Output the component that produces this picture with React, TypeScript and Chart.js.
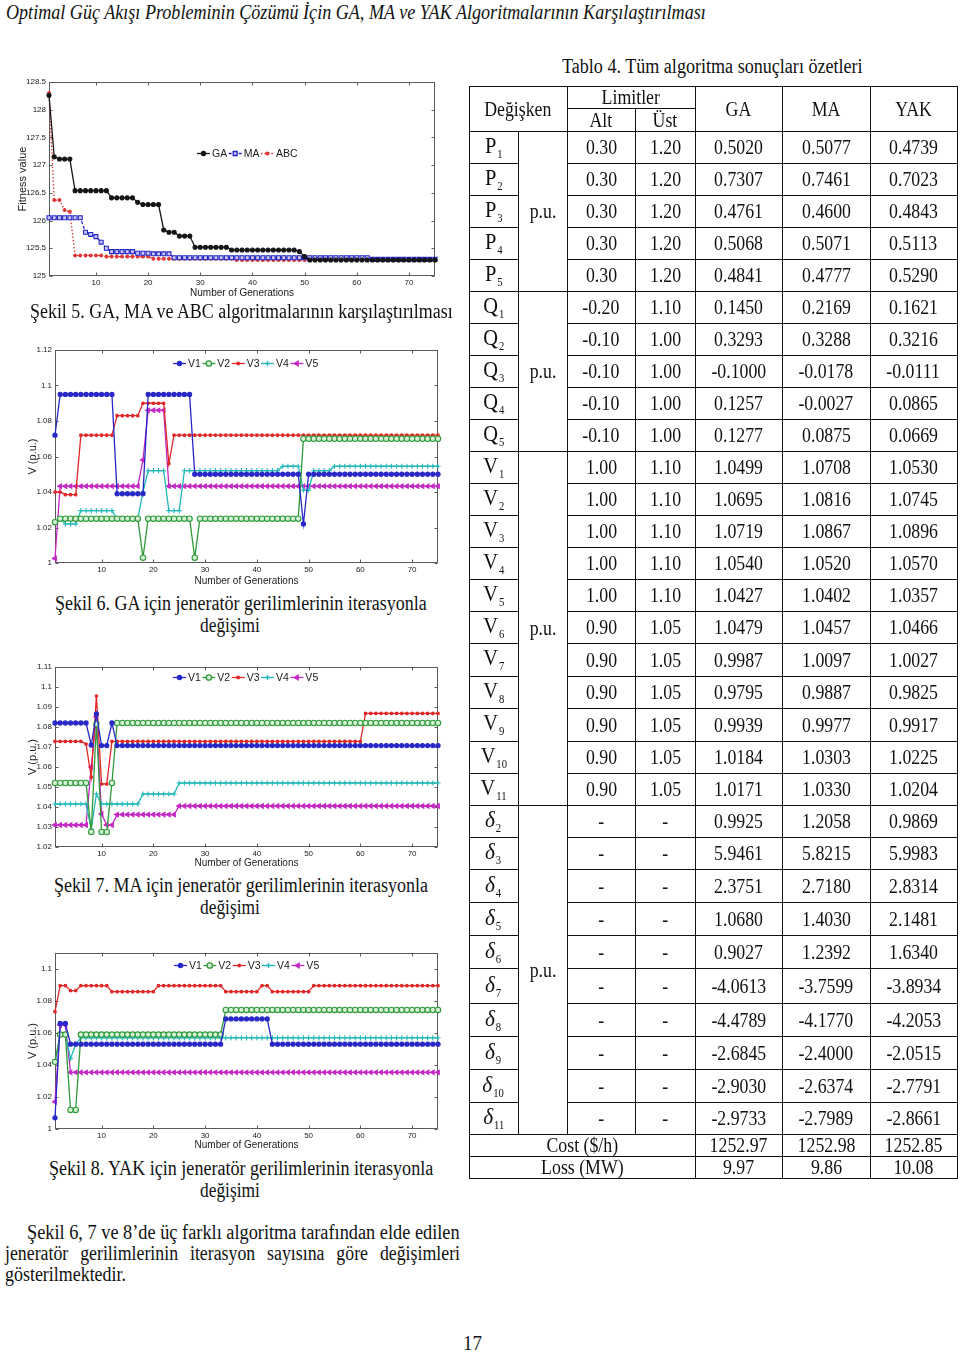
import React, { useEffect, useLayoutEffect, useRef, useState } from 'react';
import { Chart, registerables } from 'chart.js';
import { drawPoint } from 'chart.js/helpers';

Chart.register(...registerables);

const SERIF = '"Liberation Serif", "Times New Roman", serif';
const SANS = '"Liberation Sans", Arial, Helvetica, sans-serif';

// ---------------- DATA ----------------
const GENS = [
  1, 2, 3, 4, 5, 6, 7, 8, 9, 10, 11, 12, 13, 14, 15,
  16, 17, 18, 19, 20, 21, 22, 23, 24, 25, 26, 27, 28, 29, 30,
  31, 32, 33, 34, 35, 36, 37, 38, 39, 40, 41, 42, 43, 44, 45,
  46, 47, 48, 49, 50, 51, 52, 53, 54, 55, 56, 57, 58, 59, 60,
  61, 62, 63, 64, 65, 66, 67, 68, 69, 70, 71, 72, 73, 74, 75,
];

// Şekil 5 - fitness value
const FIT_GA = [
  128.26, 127.15, 127.11, 127.11, 127.11, 126.54, 126.54, 126.54, 126.54, 126.54, 126.54, 126.54, 126.41, 126.41, 126.41,
  126.41, 126.41, 126.33, 126.29, 126.29, 126.29, 126.29, 125.83, 125.79, 125.79, 125.72, 125.72, 125.72, 125.52, 125.52,
  125.52, 125.52, 125.52, 125.52, 125.52, 125.47, 125.47, 125.47, 125.47, 125.47, 125.47, 125.47, 125.47, 125.47, 125.47,
  125.47, 125.47, 125.47, 125.44, 125.35, 125.29, 125.29, 125.29, 125.29, 125.29, 125.29, 125.29, 125.29, 125.29, 125.29,
  125.29, 125.29, 125.29, 125.29, 125.29, 125.29, 125.29, 125.29, 125.29, 125.29, 125.29, 125.29, 125.29, 125.29, 125.29,
];
const FIT_MA = [
  126.05, 126.05, 126.05, 126.05, 126.05, 126.05, 126.05, 125.79, 125.75, 125.71, 125.61, 125.50, 125.44, 125.44, 125.44,
  125.44, 125.44, 125.41, 125.41, 125.41, 125.40, 125.40, 125.40, 125.40, 125.33, 125.33, 125.33, 125.33, 125.33, 125.33,
  125.33, 125.33, 125.33, 125.33, 125.33, 125.33, 125.33, 125.33, 125.33, 125.33, 125.33, 125.33, 125.33, 125.33, 125.33,
  125.33, 125.33, 125.33, 125.33, 125.33, 125.33, 125.33, 125.33, 125.33, 125.33, 125.33, 125.33, 125.33, 125.33, 125.33,
  125.33, 125.33, 125.30, 125.30, 125.30, 125.30, 125.30, 125.30, 125.30, 125.30, 125.30, 125.30, 125.30, 125.30, 125.30,
];
const FIT_ABC = [
  128.30, 126.37, 126.37, 126.19, 126.16, 125.37, 125.37, 125.37, 125.37, 125.37, 125.37, 125.35, 125.35, 125.35, 125.35,
  125.35, 125.35, 125.35, 125.35, 125.35, 125.31, 125.31, 125.31, 125.31, 125.31, 125.31, 125.31, 125.31, 125.31, 125.31,
  125.31, 125.31, 125.31, 125.31, 125.31, 125.31, 125.29, 125.29, 125.29, 125.29, 125.29, 125.29, 125.29, 125.29, 125.29,
  125.29, 125.29, 125.29, 125.29, 125.29, 125.29, 125.29, 125.29, 125.29, 125.29, 125.29, 125.29, 125.29, 125.29, 125.29,
  125.29, 125.29, 125.29, 125.29, 125.29, 125.29, 125.29, 125.29, 125.29, 125.29, 125.29, 125.29, 125.29, 125.29, 125.29,
];

// Şekil 6 - GA generator voltages
const GA_V1 = [
  1.072, 1.095, 1.095, 1.095, 1.095, 1.095, 1.095, 1.095, 1.095, 1.095, 1.095, 1.095, 1.039, 1.039, 1.039,
  1.039, 1.039, 1.039, 1.095, 1.095, 1.095, 1.095, 1.095, 1.095, 1.095, 1.095, 1.095, 1.050, 1.050, 1.050,
  1.050, 1.050, 1.050, 1.050, 1.050, 1.050, 1.050, 1.050, 1.050, 1.050, 1.050, 1.050, 1.050, 1.050, 1.050,
  1.050, 1.050, 1.050, 1.022, 1.050, 1.050, 1.050, 1.050, 1.050, 1.050, 1.050, 1.050, 1.050, 1.050, 1.050,
  1.050, 1.050, 1.050, 1.050, 1.050, 1.050, 1.050, 1.050, 1.050, 1.050, 1.050, 1.050, 1.050, 1.050, 1.050,
];
const GA_V2 = [
  1.023, 1.025, 1.025, 1.025, 1.025, 1.025, 1.025, 1.025, 1.025, 1.025, 1.025, 1.025, 1.025, 1.025, 1.025,
  1.025, 1.025, 1.003, 1.025, 1.025, 1.025, 1.025, 1.025, 1.025, 1.025, 1.025, 1.025, 1.003, 1.025, 1.025,
  1.025, 1.025, 1.025, 1.025, 1.025, 1.025, 1.025, 1.025, 1.025, 1.025, 1.025, 1.025, 1.025, 1.025, 1.025,
  1.025, 1.025, 1.025, 1.070, 1.070, 1.070, 1.070, 1.070, 1.070, 1.070, 1.070, 1.070, 1.070, 1.070, 1.070,
  1.070, 1.070, 1.070, 1.070, 1.070, 1.070, 1.070, 1.070, 1.070, 1.070, 1.070, 1.070, 1.070, 1.070, 1.070,
];
const GA_V3 = [
  1.040, 1.040, 1.0385, 1.0385, 1.0385, 1.072, 1.072, 1.072, 1.072, 1.072, 1.072, 1.072, 1.083, 1.083, 1.083,
  1.083, 1.083, 1.090, 1.090, 1.090, 1.090, 1.090, 1.056, 1.072, 1.072, 1.072, 1.072, 1.072, 1.072, 1.072,
  1.072, 1.072, 1.072, 1.072, 1.072, 1.072, 1.072, 1.072, 1.072, 1.072, 1.072, 1.072, 1.072, 1.072, 1.072,
  1.072, 1.072, 1.072, 1.072, 1.072, 1.072, 1.072, 1.072, 1.072, 1.072, 1.072, 1.072, 1.072, 1.072, 1.072,
  1.072, 1.072, 1.072, 1.072, 1.072, 1.072, 1.072, 1.072, 1.072, 1.072, 1.072, 1.072, 1.072, 1.072, 1.072,
];
const GA_V4 = [
  1.023, 1.025, 1.022, 1.022, 1.022, 1.0295, 1.0295, 1.0295, 1.0295, 1.0295, 1.0295, 1.0295, 1.025, 1.025, 1.025,
  1.025, 1.025, 1.040, 1.052, 1.052, 1.052, 1.052, 1.0295, 1.0295, 1.0295, 1.052, 1.052, 1.052, 1.052, 1.052,
  1.052, 1.052, 1.052, 1.052, 1.052, 1.052, 1.052, 1.052, 1.052, 1.052, 1.052, 1.052, 1.052, 1.052, 1.0545,
  1.0545, 1.0545, 1.0545, 1.041, 1.041, 1.052, 1.052, 1.052, 1.052, 1.0545, 1.0545, 1.0545, 1.0545, 1.0545, 1.0545,
  1.0545, 1.0545, 1.0545, 1.0545, 1.0545, 1.0545, 1.0545, 1.0545, 1.0545, 1.0545, 1.0545, 1.0545, 1.0545, 1.0545, 1.0545,
];
const GA_V5 = [
  1.0025, 1.0433, 1.0433, 1.0433, 1.0433, 1.0433, 1.0433, 1.0433, 1.0433, 1.0433, 1.0433, 1.0433, 1.0433, 1.0433, 1.0433,
  1.0433, 1.0433, 1.058, 1.086, 1.086, 1.086, 1.086, 1.0433, 1.0433, 1.0433, 1.0433, 1.0433, 1.0433, 1.0433, 1.0433,
  1.0433, 1.0433, 1.0433, 1.0433, 1.0433, 1.0433, 1.0433, 1.0433, 1.0433, 1.0433, 1.0433, 1.0433, 1.0433, 1.0433, 1.0433,
  1.0433, 1.0433, 1.0433, 1.0433, 1.0433, 1.0433, 1.0433, 1.0433, 1.0433, 1.0433, 1.0433, 1.0433, 1.0433, 1.0433, 1.0433,
  1.0433, 1.0433, 1.0433, 1.0433, 1.0433, 1.0433, 1.0433, 1.0433, 1.0433, 1.0433, 1.0433, 1.0433, 1.0433, 1.0433, 1.0433,
];

// Şekil 7 - MA generator voltages
const MA_V1 = [
  1.082, 1.082, 1.082, 1.082, 1.082, 1.082, 1.082, 1.071, 1.0865, 1.0707, 1.0707, 1.082, 1.0707, 1.0707, 1.0707,
  1.0707, 1.0707, 1.0707, 1.0707, 1.0707, 1.0707, 1.0707, 1.0707, 1.0707, 1.0707, 1.0707, 1.0707, 1.0707, 1.0707, 1.0707,
  1.0707, 1.0707, 1.0707, 1.0707, 1.0707, 1.0707, 1.0707, 1.0707, 1.0707, 1.0707, 1.0707, 1.0707, 1.0707, 1.0707, 1.0707,
  1.0707, 1.0707, 1.0707, 1.0707, 1.0707, 1.0707, 1.0707, 1.0707, 1.0707, 1.0707, 1.0707, 1.0707, 1.0707, 1.0707, 1.0707,
  1.0707, 1.0707, 1.0707, 1.0707, 1.0707, 1.0707, 1.0707, 1.0707, 1.0707, 1.0707, 1.0707, 1.0707, 1.0707, 1.0707, 1.0707,
];
const MA_V2 = [
  1.052, 1.052, 1.052, 1.052, 1.052, 1.052, 1.052, 1.0275, 1.0815, 1.0275, 1.0275, 1.052, 1.082, 1.082, 1.082,
  1.082, 1.082, 1.082, 1.082, 1.082, 1.082, 1.082, 1.082, 1.082, 1.082, 1.082, 1.082, 1.082, 1.082, 1.082,
  1.082, 1.082, 1.082, 1.082, 1.082, 1.082, 1.082, 1.082, 1.082, 1.082, 1.082, 1.082, 1.082, 1.082, 1.082,
  1.082, 1.082, 1.082, 1.082, 1.082, 1.082, 1.082, 1.082, 1.082, 1.082, 1.082, 1.082, 1.082, 1.082, 1.082,
  1.082, 1.082, 1.082, 1.082, 1.082, 1.082, 1.082, 1.082, 1.082, 1.082, 1.082, 1.082, 1.082, 1.082, 1.082,
];
const MA_V3 = [
  1.0728, 1.0728, 1.0728, 1.0728, 1.0728, 1.0728, 1.0715, 1.055, 1.0955, 1.0515, 1.0515, 1.0728, 1.0728, 1.0728, 1.0728,
  1.0728, 1.0728, 1.0728, 1.0728, 1.0728, 1.0728, 1.0728, 1.0728, 1.0728, 1.0728, 1.0728, 1.0728, 1.0728, 1.0728, 1.0728,
  1.0728, 1.0728, 1.0728, 1.0728, 1.0728, 1.0728, 1.0728, 1.0728, 1.0728, 1.0728, 1.0728, 1.0728, 1.0728, 1.0728, 1.0728,
  1.0728, 1.0728, 1.0728, 1.0728, 1.0728, 1.0728, 1.0728, 1.0728, 1.0728, 1.0728, 1.0728, 1.0728, 1.0728, 1.0728, 1.0728,
  1.0868, 1.0868, 1.0868, 1.0868, 1.0868, 1.0868, 1.0868, 1.0868, 1.0868, 1.0868, 1.0868, 1.0868, 1.0868, 1.0868, 1.0868,
];
const MA_V4 = [
  1.0415, 1.0415, 1.0415, 1.0415, 1.0415, 1.0415, 1.0415, 1.029, 1.0465, 1.0415, 1.0415, 1.0415, 1.0415, 1.0415, 1.0415,
  1.0415, 1.0415, 1.0465, 1.0465, 1.0465, 1.0465, 1.0465, 1.0465, 1.0465, 1.052, 1.052, 1.052, 1.052, 1.052, 1.052,
  1.052, 1.052, 1.052, 1.052, 1.052, 1.052, 1.052, 1.052, 1.052, 1.052, 1.052, 1.052, 1.052, 1.052, 1.052,
  1.052, 1.052, 1.052, 1.052, 1.052, 1.052, 1.052, 1.052, 1.052, 1.052, 1.052, 1.052, 1.052, 1.052, 1.052,
  1.052, 1.052, 1.052, 1.052, 1.052, 1.052, 1.052, 1.052, 1.052, 1.052, 1.052, 1.052, 1.052, 1.052, 1.052,
];
const MA_V5 = [
  1.031, 1.031, 1.031, 1.031, 1.031, 1.031, 1.031, 1.060, 1.085, 1.0365, 1.031, 1.031, 1.0362, 1.0362, 1.0362,
  1.0362, 1.0362, 1.0362, 1.0362, 1.0362, 1.0362, 1.0362, 1.0362, 1.0362, 1.0405, 1.0405, 1.0405, 1.0405, 1.0405, 1.0405,
  1.0405, 1.0405, 1.0405, 1.0405, 1.0405, 1.0405, 1.0405, 1.0405, 1.0405, 1.0405, 1.0405, 1.0405, 1.0405, 1.0405, 1.0405,
  1.0405, 1.0405, 1.0405, 1.0405, 1.0405, 1.0405, 1.0405, 1.0405, 1.0405, 1.0405, 1.0405, 1.0405, 1.0405, 1.0405, 1.0405,
  1.0405, 1.0405, 1.0405, 1.0405, 1.0405, 1.0405, 1.0405, 1.0405, 1.0405, 1.0405, 1.0405, 1.0405, 1.0405, 1.0405, 1.0405,
];

// Şekil 8 - YAK generator voltages
const YAK_V1 = [
  1.007, 1.066, 1.066, 1.053, 1.053, 1.053, 1.053, 1.053, 1.053, 1.053, 1.053, 1.053, 1.053, 1.053, 1.053,
  1.053, 1.053, 1.053, 1.053, 1.053, 1.053, 1.053, 1.053, 1.053, 1.053, 1.053, 1.053, 1.053, 1.053, 1.053,
  1.053, 1.053, 1.053, 1.0688, 1.0688, 1.0688, 1.0688, 1.0688, 1.0688, 1.0688, 1.0688, 1.0688, 1.053, 1.053, 1.053,
  1.053, 1.053, 1.053, 1.053, 1.053, 1.053, 1.053, 1.053, 1.053, 1.053, 1.053, 1.053, 1.053, 1.053, 1.053,
  1.053, 1.053, 1.053, 1.053, 1.053, 1.053, 1.053, 1.053, 1.053, 1.053, 1.053, 1.053, 1.053, 1.053, 1.053,
];
const YAK_V2 = [
  1.042, 1.059, 1.059, 1.0119, 1.0119, 1.059, 1.059, 1.059, 1.059, 1.059, 1.059, 1.059, 1.059, 1.059, 1.059,
  1.059, 1.059, 1.059, 1.059, 1.059, 1.059, 1.059, 1.059, 1.059, 1.059, 1.059, 1.059, 1.059, 1.059, 1.059,
  1.059, 1.059, 1.059, 1.0744, 1.0744, 1.0744, 1.0744, 1.0744, 1.0744, 1.0744, 1.0744, 1.0744, 1.0744, 1.0744, 1.0744,
  1.0744, 1.0744, 1.0744, 1.0744, 1.0744, 1.0744, 1.0744, 1.0744, 1.0744, 1.0744, 1.0744, 1.0744, 1.0744, 1.0744, 1.0744,
  1.0744, 1.0744, 1.0744, 1.0744, 1.0744, 1.0744, 1.0744, 1.0744, 1.0744, 1.0744, 1.0744, 1.0744, 1.0744, 1.0744, 1.0744,
];
const YAK_V3 = [
  1.0733, 1.0896, 1.0896, 1.0865, 1.0865, 1.0896, 1.0896, 1.0896, 1.0896, 1.0896, 1.0896, 1.0858, 1.0858, 1.0858, 1.0858,
  1.0858, 1.0858, 1.0858, 1.0858, 1.0858, 1.0896, 1.0896, 1.0896, 1.0896, 1.0896, 1.0896, 1.0896, 1.0896, 1.0896, 1.0896,
  1.0896, 1.0896, 1.0896, 1.0858, 1.0858, 1.0858, 1.0858, 1.0858, 1.0858, 1.0858, 1.0896, 1.0896, 1.0858, 1.0858, 1.0858,
  1.0858, 1.0858, 1.0858, 1.0858, 1.0858, 1.0896, 1.0896, 1.0896, 1.0896, 1.0896, 1.0896, 1.0896, 1.0896, 1.0896, 1.0896,
  1.0896, 1.0896, 1.0896, 1.0896, 1.0896, 1.0896, 1.0896, 1.0896, 1.0896, 1.0896, 1.0896, 1.0896, 1.0896, 1.0896, 1.0896,
];
const YAK_V4 = [
  1.042, 1.059, 1.059, 1.044, 1.053, 1.057, 1.057, 1.057, 1.057, 1.057, 1.057, 1.057, 1.057, 1.057, 1.057,
  1.057, 1.057, 1.057, 1.057, 1.057, 1.057, 1.057, 1.057, 1.057, 1.057, 1.057, 1.057, 1.057, 1.057, 1.057,
  1.057, 1.057, 1.057, 1.057, 1.057, 1.057, 1.057, 1.057, 1.057, 1.057, 1.057, 1.057, 1.057, 1.057, 1.057,
  1.057, 1.057, 1.057, 1.057, 1.057, 1.057, 1.057, 1.057, 1.057, 1.057, 1.057, 1.057, 1.057, 1.057, 1.057,
  1.057, 1.057, 1.057, 1.057, 1.057, 1.057, 1.057, 1.057, 1.057, 1.057, 1.057, 1.057, 1.057, 1.057, 1.057,
];
const YAK_V5 = [
  1.017, 1.065, 1.065, 1.0354, 1.0354, 1.0354, 1.0354, 1.0354, 1.0354, 1.0354, 1.0354, 1.0354, 1.0354, 1.0354, 1.0354,
  1.0354, 1.0354, 1.0354, 1.0354, 1.0354, 1.0354, 1.0354, 1.0354, 1.0354, 1.0354, 1.0354, 1.0354, 1.0354, 1.0354, 1.0354,
  1.0354, 1.0354, 1.0354, 1.0354, 1.0354, 1.0354, 1.0354, 1.0354, 1.0354, 1.0354, 1.0354, 1.0354, 1.0354, 1.0354, 1.0354,
  1.0354, 1.0354, 1.0354, 1.0354, 1.0354, 1.0354, 1.0354, 1.0354, 1.0354, 1.0354, 1.0354, 1.0354, 1.0354, 1.0354, 1.0354,
  1.0354, 1.0354, 1.0354, 1.0354, 1.0354, 1.0354, 1.0354, 1.0354, 1.0354, 1.0354, 1.0354, 1.0354, 1.0354, 1.0354, 1.0354,
];

// Tablo 4
const VAR_LABELS = [
  'P1', 'P2', 'P3', 'P4', 'P5', 'Q1', 'Q2', 'Q3', 'Q4', 'Q5',
  'V1', 'V2', 'V3', 'V4', 'V5', 'V6', 'V7', 'V8', 'V9', 'V10', 'V11',
  'δ2', 'δ3', 'δ4', 'δ5', 'δ6', 'δ7', 'δ8', 'δ9', 'δ10', 'δ11',
];
const LIM_ALT = [
  '0.30', '0.30', '0.30', '0.30', '0.30', '-0.20', '-0.10', '-0.10', '-0.10', '-0.10',
  '1.00', '1.00', '1.00', '1.00', '1.00', '0.90', '0.90', '0.90', '0.90', '0.90', '0.90',
  '-', '-', '-', '-', '-', '-', '-', '-', '-', '-',
];
const LIM_UST = [
  '1.20', '1.20', '1.20', '1.20', '1.20', '1.10', '1.00', '1.00', '1.00', '1.00',
  '1.10', '1.10', '1.10', '1.10', '1.10', '1.05', '1.05', '1.05', '1.05', '1.05', '1.05',
  '-', '-', '-', '-', '-', '-', '-', '-', '-', '-',
];
const RES_GA = [
  '0.5020', '0.7307', '0.4761', '0.5068', '0.4841', '0.1450', '0.3293', '-0.1000', '0.1257', '0.1277',
  '1.0499', '1.0695', '1.0719', '1.0540', '1.0427', '1.0479', '0.9987', '0.9795', '0.9939', '1.0184', '1.0171',
  '0.9925', '5.9461', '2.3751', '1.0680', '0.9027', '-4.0613', '-4.4789', '-2.6845', '-2.9030', '-2.9733',
];
const RES_MA = [
  '0.5077', '0.7461', '0.4600', '0.5071', '0.4777', '0.2169', '0.3288', '-0.0178', '-0.0027', '0.0875',
  '1.0708', '1.0816', '1.0867', '1.0520', '1.0402', '1.0457', '1.0097', '0.9887', '0.9977', '1.0303', '1.0330',
  '1.2058', '5.8215', '2.7180', '1.4030', '1.2392', '-3.7599', '-4.1770', '-2.4000', '-2.6374', '-2.7989',
];
const RES_YAK = [
  '0.4739', '0.7023', '0.4843', '0.5113', '0.5290', '0.1621', '0.3216', '-0.0111', '0.0865', '0.0669',
  '1.0530', '1.0745', '1.0896', '1.0570', '1.0357', '1.0466', '1.0027', '0.9825', '0.9917', '1.0225', '1.0204',
  '0.9869', '5.9983', '2.8314', '2.1481', '1.6340', '-3.8934', '-4.2053', '-2.0515', '-2.7791', '-2.8661',
];
const COST = ['1252.97', '1252.98', '1252.85'];
const LOSS = ['9.97', '9.86', '10.08'];
const ALGOS = ['GA', 'MA', 'YAK'];

// ---------------- PLUGINS ----------------
const frameTicks = {
  id: 'frameTicks',
  beforeDatasetsDraw(chart: any, _a: any, o: any) {
    const { ctx, chartArea: a, scales } = chart;
    const xs = scales.x, ys = scales.y;
    const L = Math.round(a.left) + 0.5, R = Math.round(a.right) - 0.5;
    const T = Math.round(a.top) + 0.5, B = Math.round(a.bottom) - 0.5;
    ctx.save();
    ctx.strokeStyle = o.color;
    ctx.lineWidth = 1;
    ctx.strokeRect(L, T, R - L, B - T);
    ctx.beginPath();
    xs.ticks.forEach((t: any) => {
      const p = Math.round(xs.getPixelForValue(t.value)) + 0.5;
      ctx.moveTo(p, B); ctx.lineTo(p, B - o.len);
      ctx.moveTo(p, T); ctx.lineTo(p, T + o.len);
    });
    ys.ticks.forEach((t: any) => {
      const p = Math.round(ys.getPixelForValue(t.value)) + 0.5;
      ctx.moveTo(L, p); ctx.lineTo(L + o.len, p);
      ctx.moveTo(R, p); ctx.lineTo(R - o.len, p);
    });
    ctx.stroke();
    ctx.restore();
  },
};

const inlineLegend = {
  id: 'inlineLegend',
  afterDatasetsDraw(chart: any, _a: any, o: any) {
    const ctx = chart.ctx;
    ctx.save();
    ctx.font = `${o.size}px ${SANS}`;
    ctx.textBaseline = 'middle';
    let cx = o.x;
    chart.data.datasets.forEach((ds: any) => {
      ctx.strokeStyle = ds.borderColor;
      ctx.lineWidth = ds.borderWidth;
      ctx.setLineDash(ds.borderDash || []);
      ctx.beginPath();
      ctx.moveTo(cx, o.y + 0.5);
      ctx.lineTo(cx + o.line, o.y + 0.5);
      ctx.stroke();
      ctx.setLineDash([]);
      ctx.fillStyle = ds.pointBackgroundColor;
      ctx.strokeStyle = ds.pointBorderColor;
      drawPoint(ctx, { pointStyle: ds.pointStyle, rotation: ds.pointRotation || 0, radius: ds.pointRadius, borderWidth: ds.pointBorderWidth } as any, cx + o.line / 2, o.y + 0.5);
      ctx.fillStyle = o.color;
      ctx.fillText(ds.label, cx + o.line + o.gap, o.y + 1);
      cx += o.line + o.gap + ctx.measureText(ds.label).width + o.itemGap;
    });
    ctx.restore();
  },
};

// ---------------- CHART SPECS ----------------
type SeriesDef = { label: string; data: number[]; color: string; point: string; radius: number; fill: string; dash?: number[]; rot?: number };

const FIT_SERIES: SeriesDef[] = [
  { label: 'GA', data: FIT_GA, color: '#151515', point: 'circle', radius: 2, fill: '#151515' },
  { label: 'MA', data: FIT_MA, color: '#2424c8', point: 'rect', radius: 2.8, fill: '#c9c9f2', dash: [3, 2] },
  { label: 'ABC', data: FIT_ABC, color: '#e03434', point: 'star', radius: 2, fill: '#e03434', dash: [1.5, 2] },
];

const V_COLORS = ['#2828c8', '#2f9a3a', '#e02828', '#22b8b8', '#c428c4'];
function voltageSeries(v1: number[], v2: number[], v3: number[], v4: number[], v5: number[]): SeriesDef[] {
  return [
    { label: 'V1', data: v1, color: V_COLORS[0], point: 'circle', radius: 2.1, fill: V_COLORS[0] },
    { label: 'V2', data: v2, color: V_COLORS[1], point: 'circle', radius: 2.7, fill: '#d6efd6' },
    { label: 'V3', data: v3, color: V_COLORS[2], point: 'circle', radius: 1.3, fill: V_COLORS[2] },
    { label: 'V4', data: v4, color: V_COLORS[3], point: 'cross', radius: 2.6, fill: V_COLORS[3] },
    { label: 'V5', data: v5, color: V_COLORS[4], point: 'triangle', radius: 2.6, fill: V_COLORS[4], rot: -90 },
  ];
}

type Geo = {
  left: number; top: number; width: number; height: number;
  yWidth: number; xHeight: number; padTop: number; padRight: number;
  yTitlePad: number; xTitlePad: number; legendX: number; legendY: number;
};
type YAxis = { min: number; max: number; step: number; bounds: boolean; title: string };

function LineChart({ geo, yAxis, series }: { geo: Geo; yAxis: YAxis; series: SeriesDef[] }) {
  const ref = useRef<HTMLCanvasElement>(null);
  useEffect(() => {
    const tickFont = { family: SANS, size: 8 };
    const chart = new Chart(ref.current as HTMLCanvasElement, {
      type: 'line',
      data: {
        datasets: series.map((s) => ({
          label: s.label,
          data: s.data.map((v, i) => ({ x: GENS[i], y: v })),
          borderColor: s.color,
          backgroundColor: s.fill,
          borderWidth: 1.3,
          borderDash: s.dash || [],
          pointStyle: s.point as any,
          pointRadius: s.radius,
          pointRotation: s.rot || 0,
          pointBorderColor: s.color,
          pointBackgroundColor: s.fill,
          pointBorderWidth: 1.1,
          tension: 0,
          clip: false as any,
        })),
      },
      options: {
        animation: false,
        responsive: false,
        maintainAspectRatio: false,
        events: [],
        layout: { padding: { top: geo.padTop, right: geo.padRight, left: 0, bottom: 0 } },
        plugins: {
          legend: { display: false },
          tooltip: { enabled: false },
          frameTicks: { color: '#5a5a5a', len: 3 },
          inlineLegend: { x: geo.legendX, y: geo.legendY, line: 13, gap: 2, itemGap: 1.5, size: 10.5, color: '#1a1a1a' },
        } as any,
        scales: {
          x: {
            type: 'linear',
            min: 1,
            max: 75,
            grid: { display: false, drawTicks: false },
            border: { display: false },
            ticks: { stepSize: 10, includeBounds: false, padding: 1.5, font: tickFont, color: '#1a1a1a', maxRotation: 0, autoSkip: false },
            title: { display: true, text: 'Number of Generations', font: { family: SANS, size: 10 }, color: '#1a1a1a', padding: { top: 0, bottom: geo.xTitlePad } },
            afterFit: (s: any) => { s.height = geo.xHeight; },
          },
          y: {
            type: 'linear',
            min: yAxis.min,
            max: yAxis.max,
            grid: { display: false, drawTicks: false },
            border: { display: false },
            ticks: {
              stepSize: yAxis.step,
              includeBounds: yAxis.bounds,
              padding: 3,
              font: tickFont,
              color: '#1a1a1a',
              autoSkip: false,
              callback: (v: any) => String(Math.round(Number(v) * 10000) / 10000),
            },
            title: { display: true, text: yAxis.title, font: { family: SANS, size: 11 }, color: '#1a1a1a', padding: { top: geo.yTitlePad, bottom: 0 } },
            afterFit: (s: any) => { s.width = geo.yWidth; },
          },
        },
      } as any,
      plugins: [frameTicks, inlineLegend],
    });
    return () => chart.destroy();
  }, []);
  return (
    <canvas
      ref={ref}
      width={geo.width}
      height={geo.height}
      style={{ position: 'absolute', left: geo.left, top: geo.top, width: geo.width, height: geo.height }}
    />
  );
}

const GEO1: Geo = { left: 12, top: 74, width: 430, height: 227, yWidth: 37, xHeight: 25, padTop: 8, padRight: 7, yTitlePad: 4, xTitlePad: 1.5, legendX: 185, legendY: 79 };
const GEO2: Geo = { left: 20, top: 342, width: 425, height: 247, yWidth: 35, xHeight: 26, padTop: 8, padRight: 7, yTitlePad: 6.5, xTitlePad: 1.5, legendX: 153, legendY: 21 };
const GEO3: Geo = { left: 20, top: 659, width: 425, height: 212, yWidth: 35, xHeight: 24, padTop: 8, padRight: 7, yTitlePad: 6.5, xTitlePad: 2, legendX: 153, legendY: 18 };
const GEO4: Geo = { left: 20, top: 945, width: 425, height: 208, yWidth: 35, xHeight: 24, padTop: 8, padRight: 7, yTitlePad: 6.5, xTitlePad: 1.5, legendX: 154, legendY: 20 };

const Y1: YAxis = { min: 125, max: 128.5, step: 0.5, bounds: true, title: 'Fitness value' };
const Y2: YAxis = { min: 1, max: 1.12, step: 0.02, bounds: true, title: 'V (p.u.)' };
const Y3: YAxis = { min: 1.02, max: 1.11, step: 0.01, bounds: true, title: 'V (p.u.)' };
const Y4: YAxis = { min: 1, max: 1.11, step: 0.02, bounds: false, title: 'V (p.u.)' };

// ---------------- TEXT HELPERS ----------------
const SX = 0.89;

function Fit({ x, cy, w, size = 20, italic = false, children }: { x: number; cy: number; w: number; size?: number; italic?: boolean; children: React.ReactNode }) {
  const ref = useRef<HTMLSpanElement>(null);
  const [sx, setSx] = useState(SX);
  useLayoutEffect(() => {
    const el = ref.current;
    if (!el) return;
    const measure = () => {
      const nat = el.offsetWidth;
      if (nat > 0) setSx(w / nat);
    };
    measure();
    const f = (document as any).fonts;
    if (f && f.ready) f.ready.then(measure);
  }, [w]);
  return (
    <span
      ref={ref}
      style={{
        position: 'absolute', left: x, top: cy - size / 2, fontSize: size, lineHeight: `${size}px`,
        whiteSpace: 'nowrap', fontStyle: italic ? 'italic' : 'normal',
        transform: `scaleX(${sx})`, transformOrigin: 'left center',
      }}
    >
      {children}
    </span>
  );
}

function Justified({ x, cy, w, size = 20, children }: { x: number; cy: number; w: number; size?: number; children: React.ReactNode }) {
  return (
    <div
      style={{
        position: 'absolute', left: x, top: cy - size / 2, width: w / SX, fontSize: size, lineHeight: `${size}px`,
        whiteSpace: 'nowrap', textAlign: 'justify', textAlignLast: 'justify' as any,
        transform: `scaleX(${SX})`, transformOrigin: 'left center',
      }}
    >
      {children}
    </div>
  );
}

// ---------------- TABLE ----------------
const COLX = [469, 518, 567, 635, 695, 782, 870, 957];
const ROWY = [131, 163, 195, 227, 259, 291, 323, 355, 387, 419, 451, 483, 515, 547, 579, 611, 643, 676, 708, 741, 773, 805, 837, 869, 902, 935, 968, 1003, 1036, 1069, 1102, 1134];
const HEAD_TOP = 86;
const HEAD_MID = 108;
const COST_BOTTOM = 1156;
const LOSS_BOTTOM = 1178;
const GROUP_EDGES = [0, 5, 10, 21, 31];

function HLine({ x0, x1, y }: { x0: number; x1: number; y: number }) {
  return <div style={{ position: 'absolute', left: x0, top: y, width: x1 - x0 + 1, height: 1, background: '#111' }} />;
}
function VLine({ x, y0, y1 }: { x: number; y0: number; y1: number }) {
  return <div style={{ position: 'absolute', left: x, top: y0, width: 1, height: y1 - y0 + 1, background: '#111' }} />;
}
function Cell({ x0, x1, y0, y1, size = 20, children }: { x0: number; x1: number; y0: number; y1: number; size?: number; children: React.ReactNode }) {
  return (
    <div style={{ position: 'absolute', left: x0, top: y0, width: x1 - x0, height: y1 - y0, display: 'flex', alignItems: 'center', justifyContent: 'center' }}>
      <span style={{ fontSize: size, lineHeight: `${size}px`, whiteSpace: 'nowrap', transform: `scaleX(${SX})`, transformOrigin: 'center center', display: 'inline-block' }}>
        {children}
      </span>
    </div>
  );
}

function VarLabel({ label }: { label: string }) {
  const base = label.charAt(0);
  const sub = label.slice(1);
  const greek = base === 'δ';
  return (
    <span style={{ fontSize: greek ? 24 : 23, fontStyle: greek ? 'italic' : 'normal' }}>
      {base}
      <span style={{ fontSize: 12, fontStyle: 'normal', position: 'relative', top: 5, marginLeft: 1 }}>{sub}</span>
    </span>
  );
}

function ResultTable() {
  const lines: React.ReactNode[] = [];
  lines.push(<HLine key="ht" x0={COLX[0]} x1={COLX[7]} y={HEAD_TOP} />);
  lines.push(<HLine key="hm" x0={COLX[2]} x1={COLX[4]} y={HEAD_MID} />);
  ROWY.forEach((y, k) => {
    if (GROUP_EDGES.includes(k)) {
      lines.push(<HLine key={`r${k}`} x0={COLX[0]} x1={COLX[7]} y={y} />);
    } else {
      lines.push(<HLine key={`ra${k}`} x0={COLX[0]} x1={COLX[1]} y={y} />);
      lines.push(<HLine key={`rb${k}`} x0={COLX[2]} x1={COLX[7]} y={y} />);
    }
  });
  lines.push(<HLine key="cb" x0={COLX[0]} x1={COLX[7]} y={COST_BOTTOM} />);
  lines.push(<HLine key="lb" x0={COLX[0]} x1={COLX[7]} y={LOSS_BOTTOM} />);
  const last = ROWY[ROWY.length - 1];
  lines.push(<VLine key="v0" x={COLX[0]} y0={HEAD_TOP} y1={LOSS_BOTTOM} />);
  lines.push(<VLine key="v1" x={COLX[1]} y0={ROWY[0]} y1={last} />);
  lines.push(<VLine key="v2" x={COLX[2]} y0={HEAD_TOP} y1={last} />);
  lines.push(<VLine key="v3" x={COLX[3]} y0={HEAD_MID} y1={last} />);
  [4, 5, 6, 7].forEach((c) => lines.push(<VLine key={`v${c}`} x={COLX[c]} y0={HEAD_TOP} y1={LOSS_BOTTOM} />));

  const cells: React.ReactNode[] = [];
  cells.push(<Cell key="h0" x0={COLX[0]} x1={COLX[2]} y0={HEAD_TOP} y1={ROWY[0]}>Değişken</Cell>);
  cells.push(<Cell key="h1" x0={COLX[2]} x1={COLX[4]} y0={HEAD_TOP} y1={HEAD_MID}>Limitler</Cell>);
  cells.push(<Cell key="h2" x0={COLX[2]} x1={COLX[3]} y0={HEAD_MID} y1={ROWY[0]}>Alt</Cell>);
  cells.push(<Cell key="h3" x0={COLX[3]} x1={COLX[4]} y0={HEAD_MID} y1={ROWY[0]}>Üst</Cell>);
  ALGOS.forEach((a, i) => cells.push(<Cell key={`ha${i}`} x0={COLX[4 + i]} x1={COLX[5 + i]} y0={HEAD_TOP} y1={ROWY[0]}>{a}</Cell>));
  for (let g = 0; g < GROUP_EDGES.length - 1; g++) {
    cells.push(<Cell key={`pu${g}`} x0={COLX[1]} x1={COLX[2]} y0={ROWY[GROUP_EDGES[g]]} y1={ROWY[GROUP_EDGES[g + 1]]}>p.u.</Cell>);
  }
  VAR_LABELS.forEach((lab, r) => {
    const y0 = ROWY[r], y1 = ROWY[r + 1];
    cells.push(<Cell key={`n${r}`} x0={COLX[0]} x1={COLX[1]} y0={y0} y1={y1}><VarLabel label={lab} /></Cell>);
    cells.push(<Cell key={`a${r}`} x0={COLX[2]} x1={COLX[3]} y0={y0} y1={y1}>{LIM_ALT[r]}</Cell>);
    cells.push(<Cell key={`u${r}`} x0={COLX[3]} x1={COLX[4]} y0={y0} y1={y1}>{LIM_UST[r]}</Cell>);
    cells.push(<Cell key={`g${r}`} x0={COLX[4]} x1={COLX[5]} y0={y0} y1={y1}>{RES_GA[r]}</Cell>);
    cells.push(<Cell key={`m${r}`} x0={COLX[5]} x1={COLX[6]} y0={y0} y1={y1}>{RES_MA[r]}</Cell>);
    cells.push(<Cell key={`y${r}`} x0={COLX[6]} x1={COLX[7]} y0={y0} y1={y1}>{RES_YAK[r]}</Cell>);
  });
  cells.push(<Cell key="cost" x0={COLX[0]} x1={COLX[4]} y0={last} y1={COST_BOTTOM}>Cost ($/h)</Cell>);
  cells.push(<Cell key="loss" x0={COLX[0]} x1={COLX[4]} y0={COST_BOTTOM} y1={LOSS_BOTTOM}>Loss (MW)</Cell>);
  COST.forEach((c, i) => cells.push(<Cell key={`c${i}`} x0={COLX[4 + i]} x1={COLX[5 + i]} y0={last} y1={COST_BOTTOM}>{c}</Cell>));
  LOSS.forEach((c, i) => cells.push(<Cell key={`l${i}`} x0={COLX[4 + i]} x1={COLX[5 + i]} y0={COST_BOTTOM} y1={LOSS_BOTTOM}>{c}</Cell>));
  return <>{lines}{cells}</>;
}

// ---------------- PAGE ----------------
export default function App() {
  return (
    <div
      style={{
        position: 'absolute', left: 0, top: 0, width: 960, height: 1352, overflow: 'hidden',
        background: '#ffffff', fontFamily: SERIF, color: '#111',
      }}
    >
      <Fit x={6} cy={12} w={700} size={22} italic>
        Optimal Güç Akışı Probleminin Çözümü İçin GA, MA ve YAK Algoritmalarının Karşılaştırılması
      </Fit>

      <LineChart geo={GEO1} yAxis={Y1} series={FIT_SERIES} />
      <Fit x={30} cy={311} w={423}>Şekil 5. GA, MA ve ABC algoritmalarının karşılaştırılması</Fit>

      <LineChart geo={GEO2} yAxis={Y2} series={voltageSeries(GA_V1, GA_V2, GA_V3, GA_V4, GA_V5)} />
      <Fit x={55} cy={603} w={372}>Şekil 6. GA için jeneratör gerilimlerinin iterasyonla</Fit>
      <Fit x={200} cy={625} w={60}>değişimi</Fit>

      <LineChart geo={GEO3} yAxis={Y3} series={voltageSeries(MA_V1, MA_V2, MA_V3, MA_V4, MA_V5)} />
      <Fit x={54} cy={885} w={374}>Şekil 7. MA için jeneratör gerilimlerinin iterasyonla</Fit>
      <Fit x={200} cy={907} w={60}>değişimi</Fit>

      <LineChart geo={GEO4} yAxis={Y4} series={voltageSeries(YAK_V1, YAK_V2, YAK_V3, YAK_V4, YAK_V5)} />
      <Fit x={49} cy={1168} w={384}>Şekil 8. YAK için jeneratör gerilimlerinin iterasyonla</Fit>
      <Fit x={200} cy={1190} w={60}>değişimi</Fit>

      <Fit x={27} cy={1232} w={433}>Şekil 6, 7 ve 8’de üç farklı algoritma tarafından elde edilen</Fit>
      <Justified x={5} cy={1253} w={455}>jeneratör gerilimlerinin iterasyon sayısına göre değişimleri</Justified>
      <Fit x={5} cy={1274} w={121}>gösterilmektedir.</Fit>

      <Fit x={562} cy={66} w={301}>Tablo 4. Tüm algoritma sonuçları özetleri</Fit>
      <ResultTable />

      <Fit x={463} cy={1343} w={19}>17</Fit>
    </div>
  );
}
